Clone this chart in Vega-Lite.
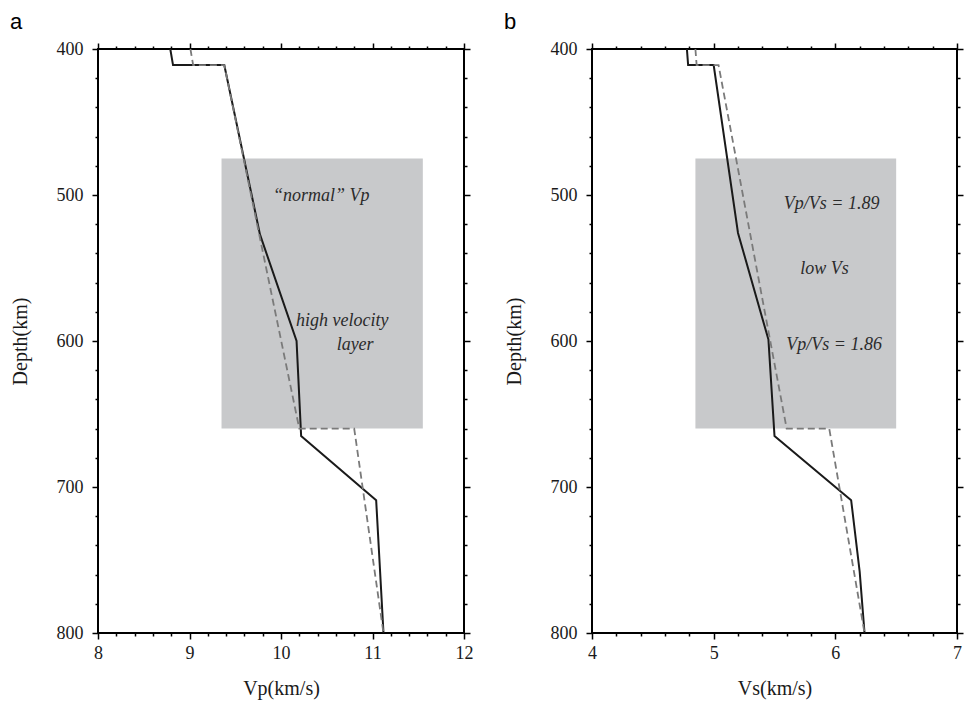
{
  "$schema": "https://vega.github.io/schema/vega-lite/v6.json",
  "padding": {"left": 9, "top": 10, "right": 5, "bottom": 5},
  "background": "white",
  "spacing": 29,
  "config": {
    "view": {"stroke": "black", "strokeWidth": 2},
    "axis": {
      "domain": false, "grid": false, "tickColor": "black", "tickWidth": 1.5,
      "labelFont": "Liberation Serif, Times New Roman, DejaVu Serif, serif", "labelFontSize": 18, "labelColor": "#1a1a1a",
      "titleFont": "Liberation Serif, Times New Roman, DejaVu Serif, serif", "titleFontSize": 20, "titleFontWeight": "normal", "titleColor": "#1a1a1a",
      "labelFlush": false, "labelOverlap": false
    },
    "title": {"font": "Liberation Sans, Arial, sans-serif", "fontSize": 22, "fontWeight": "normal", "anchor": "start", "frame": "bounds", "offset": 6, "color": "black"}
  },
  "hconcat": [
    {
      "width": 366, "height": 584,
      "title": "a",
      "resolve": {"axis": {"x": "independent", "y": "independent"}},
      "layer": [
        {
          "data": {"values": [{"x1": 9.35, "x2": 11.55, "y1": 475, "y2": 660}]},
          "mark": {"type": "rect", "color": "#c8c9cb"},
          "encoding": {
            "x": {"field": "x1", "type": "quantitative", "scale": {"domain": [8, 12], "nice": false, "zero": false},
                  "axis": {"orient": "bottom", "values": [8, 9, 10, 11, 12], "tickSize": 6, "labelPadding": 5, "title": "Vp(km/s)", "titlePadding": 16}},
            "x2": {"field": "x2"},
            "y": {"field": "y1", "type": "quantitative", "scale": {"domain": [400, 800], "reverse": true, "nice": false, "zero": false},
                  "axis": {"orient": "left", "values": [400, 500, 600, 700, 800], "tickSize": 6, "labelPadding": 9, "title": "Depth(km)", "titlePadding": 26}},
            "y2": {"field": "y2"}
          }
        },
        {
          "data": {"values": [
            {"i": 0, "v": 8.79, "d": 400}, {"i": 1, "v": 8.82, "d": 411}, {"i": 2, "v": 9.38, "d": 411},
            {"i": 3, "v": 9.77, "d": 527}, {"i": 4, "v": 10.17, "d": 600}, {"i": 5, "v": 10.22, "d": 665},
            {"i": 6, "v": 11.04, "d": 709}, {"i": 7, "v": 11.12, "d": 800}
          ]},
          "mark": {"type": "line", "color": "#1a1a1a", "strokeWidth": 2},
          "encoding": {
            "x": {"field": "v", "type": "quantitative", "scale": {"domain": [8, 12], "nice": false, "zero": false},
                  "axis": {"orient": "bottom", "values": [8.2, 8.4, 8.6, 8.8, 9.2, 9.4, 9.6, 9.8, 10.2, 10.4, 10.6, 10.8, 11.2, 11.4, 11.6, 11.8], "tickSize": 3, "labels": false, "title": null}},
            "y": {"field": "d", "type": "quantitative", "scale": {"domain": [400, 800], "reverse": true, "nice": false, "zero": false},
                  "axis": {"orient": "left", "values": [420, 440, 460, 480, 520, 540, 560, 580, 620, 640, 660, 680, 720, 740, 760, 780], "tickSize": 3, "labels": false, "title": null}},
            "order": {"field": "i", "type": "quantitative"}
          }
        },
        {
          "data": {"values": [
            {"i": 0, "v": 9.01, "d": 400}, {"i": 1, "v": 9.04, "d": 411}, {"i": 2, "v": 9.38, "d": 411},
            {"i": 3, "v": 10.2, "d": 660}, {"i": 4, "v": 10.8, "d": 660}, {"i": 5, "v": 11.12, "d": 800}
          ]},
          "mark": {"type": "line", "color": "#7a7a7a", "strokeWidth": 1.8, "strokeDash": [7, 4]},
          "encoding": {
            "x": {"field": "v", "type": "quantitative", "scale": {"domain": [8, 12], "nice": false, "zero": false},
                  "axis": {"orient": "top", "values": [8, 9, 10, 11, 12], "tickSize": 6, "labels": false, "title": null}},
            "y": {"field": "d", "type": "quantitative", "scale": {"domain": [400, 800], "reverse": true, "nice": false, "zero": false},
                  "axis": {"orient": "right", "values": [400, 500, 600, 700, 800], "tickSize": 6, "labels": false, "title": null}},
            "order": {"field": "i", "type": "quantitative"}
          }
        },
        {
          "data": {"values": [
            {"v": 10.44, "d": 501, "t": "“normal” Vp"},
            {"v": 10.67, "d": 586, "t": "high velocity"},
            {"v": 10.81, "d": 603, "t": "layer"}
          ]},
          "mark": {"type": "text", "font": "Liberation Serif, Times New Roman, DejaVu Serif, serif", "fontStyle": "italic", "fontSize": 18, "color": "#2b2b2b"},
          "encoding": {
            "x": {"field": "v", "type": "quantitative", "scale": {"domain": [8, 12], "nice": false, "zero": false},
                  "axis": {"orient": "top", "values": [8.2, 8.4, 8.6, 8.8, 9.2, 9.4, 9.6, 9.8, 10.2, 10.4, 10.6, 10.8, 11.2, 11.4, 11.6, 11.8], "tickSize": 3, "labels": false, "title": null}},
            "y": {"field": "d", "type": "quantitative", "scale": {"domain": [400, 800], "reverse": true, "nice": false, "zero": false},
                  "axis": {"orient": "right", "values": [420, 440, 460, 480, 520, 540, 560, 580, 620, 640, 660, 680, 720, 740, 760, 780], "tickSize": 3, "labels": false, "title": null}},
            "text": {"field": "t"}
          }
        }
      ]
    },
    {
      "width": 365, "height": 584,
      "title": "b",
      "resolve": {"axis": {"x": "independent", "y": "independent"}},
      "layer": [
        {
          "data": {"values": [{"x1": 4.85, "x2": 6.5, "y1": 475, "y2": 660}]},
          "mark": {"type": "rect", "color": "#c8c9cb"},
          "encoding": {
            "x": {"field": "x1", "type": "quantitative", "scale": {"domain": [4, 7], "nice": false, "zero": false},
                  "axis": {"orient": "bottom", "values": [4, 5, 6, 7], "tickSize": 6, "labelPadding": 5, "title": "Vs(km/s)", "titlePadding": 16}},
            "x2": {"field": "x2"},
            "y": {"field": "y1", "type": "quantitative", "scale": {"domain": [400, 800], "reverse": true, "nice": false, "zero": false},
                  "axis": {"orient": "left", "values": [400, 500, 600, 700, 800], "tickSize": 6, "labelPadding": 9, "title": "Depth(km)", "titlePadding": 26}},
            "y2": {"field": "y2"}
          }
        },
        {
          "data": {"values": [
            {"i": 0, "v": 4.78, "d": 400}, {"i": 1, "v": 4.79, "d": 411}, {"i": 2, "v": 5.0, "d": 411},
            {"i": 3, "v": 5.2, "d": 526}, {"i": 4, "v": 5.45, "d": 599}, {"i": 5, "v": 5.5, "d": 665},
            {"i": 6, "v": 6.13, "d": 709}, {"i": 7, "v": 6.2, "d": 758}, {"i": 8, "v": 6.24, "d": 800}
          ]},
          "mark": {"type": "line", "color": "#1a1a1a", "strokeWidth": 2},
          "encoding": {
            "x": {"field": "v", "type": "quantitative", "scale": {"domain": [4, 7], "nice": false, "zero": false},
                  "axis": {"orient": "bottom", "values": [4.2, 4.4, 4.6, 4.8, 5.2, 5.4, 5.6, 5.8, 6.2, 6.4, 6.6, 6.8], "tickSize": 3, "labels": false, "title": null}},
            "y": {"field": "d", "type": "quantitative", "scale": {"domain": [400, 800], "reverse": true, "nice": false, "zero": false},
                  "axis": {"orient": "left", "values": [420, 440, 460, 480, 520, 540, 560, 580, 620, 640, 660, 680, 720, 740, 760, 780], "tickSize": 3, "labels": false, "title": null}},
            "order": {"field": "i", "type": "quantitative"}
          }
        },
        {
          "data": {"values": [
            {"i": 0, "v": 4.85, "d": 400}, {"i": 1, "v": 4.86, "d": 411}, {"i": 2, "v": 5.04, "d": 411},
            {"i": 3, "v": 5.6, "d": 660}, {"i": 4, "v": 5.95, "d": 660}, {"i": 5, "v": 6.24, "d": 800}
          ]},
          "mark": {"type": "line", "color": "#7a7a7a", "strokeWidth": 1.8, "strokeDash": [7, 4]},
          "encoding": {
            "x": {"field": "v", "type": "quantitative", "scale": {"domain": [4, 7], "nice": false, "zero": false},
                  "axis": {"orient": "top", "values": [4, 5, 6, 7], "tickSize": 6, "labels": false, "title": null}},
            "y": {"field": "d", "type": "quantitative", "scale": {"domain": [400, 800], "reverse": true, "nice": false, "zero": false},
                  "axis": {"orient": "right", "values": [400, 500, 600, 700, 800], "tickSize": 6, "labels": false, "title": null}},
            "order": {"field": "i", "type": "quantitative"}
          }
        },
        {
          "data": {"values": [
            {"v": 5.97, "d": 506, "t": "Vp/Vs = 1.89"},
            {"v": 5.91, "d": 551, "t": "low Vs"},
            {"v": 5.99, "d": 603, "t": "Vp/Vs = 1.86"}
          ]},
          "mark": {"type": "text", "font": "Liberation Serif, Times New Roman, DejaVu Serif, serif", "fontStyle": "italic", "fontSize": 18, "color": "#2b2b2b"},
          "encoding": {
            "x": {"field": "v", "type": "quantitative", "scale": {"domain": [4, 7], "nice": false, "zero": false},
                  "axis": {"orient": "top", "values": [4.2, 4.4, 4.6, 4.8, 5.2, 5.4, 5.6, 5.8, 6.2, 6.4, 6.6, 6.8], "tickSize": 3, "labels": false, "title": null}},
            "y": {"field": "d", "type": "quantitative", "scale": {"domain": [400, 800], "reverse": true, "nice": false, "zero": false},
                  "axis": {"orient": "right", "values": [420, 440, 460, 480, 520, 540, 560, 580, 620, 640, 660, 680, 720, 740, 760, 780], "tickSize": 3, "labels": false, "title": null}},
            "text": {"field": "t"}
          }
        }
      ]
    }
  ]
}
